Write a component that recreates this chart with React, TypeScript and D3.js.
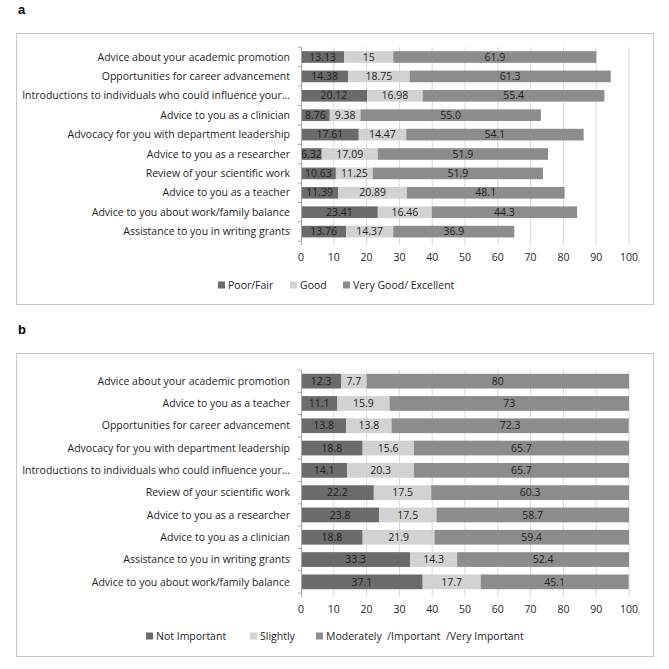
import * as d3 from "d3";

// ---- panel a data ----
const catsA = [
  "Advice about your academic promotion",
  "Opportunities for career advancement",
  "Introductions to individuals who could influence your…",
  "Advice to you as a clinician",
  "Advocacy for you with department leadership",
  "Advice to you as a researcher",
  "Review of your scientific work",
  "Advice to you as a teacher",
  "Advice to you about work/family balance",
  "Assistance to you in writing grants",
];
const poorFair = ["13.13", "14.38", "20.12", "8.76", "17.61", "6.32", "10.63", "11.39", "23.41", "13.76"];
const good = ["15", "18.75", "16.98", "9.38", "14.47", "17.09", "11.25", "20.89", "16.46", "14.37"];
const veryGood = ["61.9", "61.3", "55.4", "55.0", "54.1", "51.9", "51.9", "48.1", "44.3", "36.9"];
const seriesNamesA = ["Poor/Fair", "Good", "Very Good/ Excellent"];

// ---- panel b data ----
const catsB = [
  "Advice about your academic promotion",
  "Advice to you as a teacher",
  "Opportunities for career advancement",
  "Advocacy for you with department leadership",
  "Introductions to individuals who could influence your…",
  "Review of your scientific work",
  "Advice to you as a researcher",
  "Advice to you as a clinician",
  "Assistance to you in writing grants",
  "Advice to you about work/family balance",
];
const notImportant = ["12.3", "11.1", "13.8", "18.8", "14.1", "22.2", "23.8", "18.8", "33.3", "37.1"];
const slightly = ["7.7", "15.9", "13.8", "15.6", "20.3", "17.5", "17.5", "21.9", "14.3", "17.7"];
const moderately = ["80", "73", "72.3", "65.7", "65.7", "60.3", "58.7", "59.4", "52.4", "45.1"];
const seriesNamesB = ["Not Important", "Slightly", "Moderately  /Important  /Very Important"];

const ticks = [0, 10, 20, 30, 40, 50, 60, 70, 80, 90, 100];
const colors = ["#6b6b6b", "#d2d2d2", "#8c8c8c"];
const FONT = "'Open Sans', sans-serif";

type PanelProps = {
  letter: string;
  top: number;
  boxH: number;
  plotTop: number;
  plotBottom: number;
  pad: number;
  tickY: number;
  legendY: number;
  legendX: number[];
  cats: string[];
  series: string[][];
  names: string[];
};

function Panel(p: PanelProps) {
  const x = d3.scaleLinear().domain([0, 100]).range([301, 629]).clamp(true);
  const y = d3.scaleBand<string>().domain(p.cats.map((_, i) => String(i)))
    .range([p.top + p.plotTop, p.top + p.plotBottom]).paddingInner(p.pad).paddingOuter(p.pad / 2);
  const rows = p.cats.map((c, i) => {
    let acc = 0;
    const segs = p.series.map((s, k) => {
      const v = +s[i];
      const seg = { x0: acc, x1: acc + v, label: s[i], k };
      acc += v;
      return seg;
    });
    return { c, i, segs };
  });
  const y0 = p.top + p.plotTop;
  const y1 = p.top + p.plotBottom;
  const step = y.step();
  return (
    <g>
      <text x={18} y={p.top - 19} fontFamily="'Liberation Sans', Arial, sans-serif" fontWeight="bold" fontSize={13} fill="#000">{p.letter}</text>
      <rect x={16.5} y={p.top + 0.5} width={637} height={p.boxH} fill="#fff" stroke="#c8c8c8" strokeWidth={1} />
      {ticks.slice(1).map(t => (
        <line key={t} x1={x(t)} x2={x(t)} y1={y0} y2={y1 + 4} stroke="#d9d9d9" strokeWidth={1} />
      ))}
      {rows.map(r => (
        <g key={r.i}>
          {r.segs.map(s => (
            <rect key={s.k} x={x(s.x0)} y={y(String(r.i))} width={Math.max(0, x(s.x1) - x(s.x0))}
              height={y.bandwidth()} fill={colors[s.k]} />
          ))}
          {r.segs.map(s => (
            <text key={"t" + s.k} x={(x(s.x0) + x(s.x1)) / 2} y={(y(String(r.i)) ?? 0) + y.bandwidth() / 2}
              dy="0.35em" textAnchor="middle" fontFamily={FONT} fontSize={10.5} fill="#1e1e1e">{s.label}</text>
          ))}
          <text x={290} y={(y(String(r.i)) ?? 0) + y.bandwidth() / 2} dy="0.35em" textAnchor="end"
            fontFamily={FONT} fontSize={10.5} fill="#1e1e1e">{r.c}</text>
        </g>
      ))}
      <line x1={x(0) + 0.5} x2={x(0) + 0.5} y1={y0} y2={y1 + 4} stroke="#a6a6a6" strokeWidth={1} />
      {d3.range(p.cats.length + 1).map(i => (
        <line key={i} x1={x(0) - 3} x2={x(0)} y1={y0 + i * step} y2={y0 + i * step} stroke="#a6a6a6" strokeWidth={1} />
      ))}
      {ticks.map(t => (
        <text key={t} x={x(t)} y={p.top + p.tickY} dy="0.35em" textAnchor="middle" fontFamily={FONT}
          fontSize={10.5} fill="#1e1e1e">{t}</text>
      ))}
      {p.names.map((n, k) => (
        <g key={n}>
          <rect x={p.legendX[k]} y={p.top + p.legendY - 3.5} width={7} height={7} fill={colors[k]} />
          <text x={p.legendX[k] + 10} y={p.top + p.legendY} dy="0.35em" fontFamily={FONT} fontSize={10.5}
            fill="#1e1e1e" style={{ whiteSpace: "pre" }}>{n}</text>
        </g>
      ))}
    </g>
  );
}

export default function App() {
  return (
    <svg width={669} height={669} style={{ position: "absolute", left: 0, top: 0, background: "#fff" }}>
      <rect width={669} height={669} fill="#fff" />
      <Panel letter="a" top={33} boxH={271} plotTop={14.3} plotBottom={208.3} pad={0.4} tickY={224} legendY={252}
        legendX={[218, 290, 343]} cats={catsA} series={[poorFair, good, veryGood]} names={seriesNamesA} />
      <Panel letter="b" top={353} boxH={303} plotTop={17} plotBottom={240} pad={0.34} tickY={256} legendY={283}
        legendX={[146, 250, 316]} cats={catsB} series={[notImportant, slightly, moderately]} names={seriesNamesB} />
    </svg>
  );
}
